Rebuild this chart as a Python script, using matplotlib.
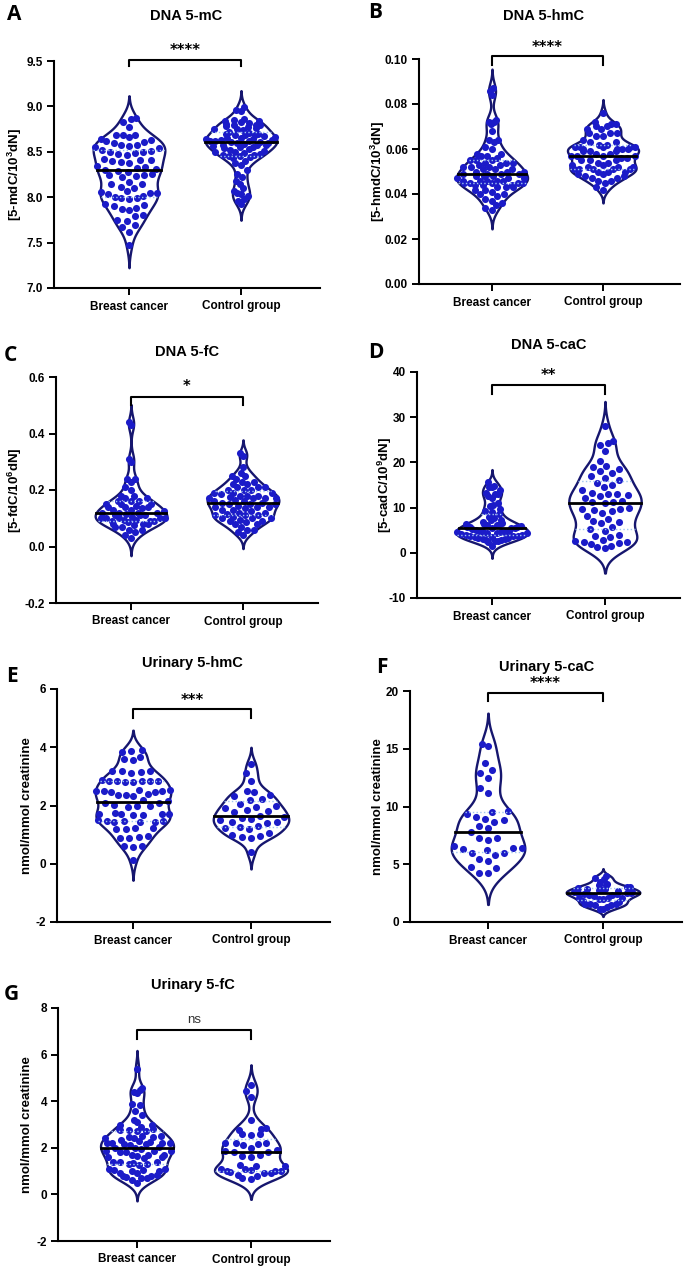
import numpy as np
import matplotlib.pyplot as plt

plt.rcParams["font.family"] = ["Liberation Sans", "DejaVu Sans"]
plt.rcParams["font.weight"] = "bold"
plt.rcParams["axes.unicode_minus"] = False
plt.rcParams["mathtext.fontset"] = "custom"
plt.rcParams["mathtext.bf"] = "Liberation Sans:bold"
plt.rcParams["mathtext.rm"] = "Liberation Sans:bold"
plt.rcParams["mathtext.default"] = "bf"

groups = ["Breast cancer", "Control group"]

# values, one list per group
dna_5mc_bc = [8.87, 8.86, 8.83, 8.77, 8.69, 8.68, 8.68, 8.66, 8.64, 8.63, 8.62, 8.61,
              8.60, 8.58, 8.57, 8.56, 8.55, 8.54, 8.52, 8.51, 8.50, 8.50, 8.49, 8.48,
              8.47, 8.42, 8.41, 8.41, 8.40, 8.39, 8.38, 8.34, 8.33, 8.32, 8.31, 8.30,
              8.29, 8.28, 8.25, 8.24, 8.24, 8.23, 8.22, 8.17, 8.15, 8.14, 8.11, 8.10,
              8.07, 8.06, 8.05, 8.05, 8.04, 8.01, 8.00, 7.99, 7.99, 7.98, 7.92, 7.91,
              7.90, 7.88, 7.87, 7.86, 7.80, 7.79, 7.75, 7.74, 7.69, 7.67, 7.62, 7.47]
dna_5mc_ctrl = [8.99, 8.96, 8.95, 8.86, 8.85, 8.84, 8.84, 8.83, 8.82, 8.81, 8.80, 8.80,
                8.79, 8.78, 8.77, 8.76, 8.75, 8.75, 8.74, 8.72, 8.71, 8.70, 8.70, 8.69,
                8.68, 8.68, 8.67, 8.66, 8.65, 8.65, 8.64, 8.64, 8.63, 8.63, 8.62, 8.62,
                8.62, 8.61, 8.61, 8.60, 8.60, 8.59, 8.58, 8.58, 8.57, 8.56, 8.55, 8.55,
                8.54, 8.53, 8.52, 8.51, 8.50, 8.50, 8.49, 8.48, 8.47, 8.46, 8.45, 8.45,
                8.44, 8.43, 8.40, 8.38, 8.36, 8.30, 8.26, 8.22, 8.18, 8.14, 8.10, 8.07,
                8.05, 8.03, 8.01, 7.98, 7.96, 7.93]

dna_5hmc_bc = [0.087, 0.086, 0.084, 0.073, 0.072, 0.072, 0.071, 0.068, 0.064, 0.064,
               0.063, 0.061, 0.060, 0.058, 0.058, 0.057, 0.057, 0.056, 0.055, 0.055,
               0.055, 0.054, 0.054, 0.054, 0.053, 0.053, 0.052, 0.052, 0.052, 0.051,
               0.051, 0.051, 0.050, 0.050, 0.050, 0.049, 0.049, 0.049, 0.049, 0.048,
               0.048, 0.048, 0.047, 0.047, 0.047, 0.046, 0.046, 0.046, 0.046, 0.046,
               0.045, 0.045, 0.045, 0.045, 0.045, 0.044, 0.044, 0.044, 0.043, 0.043,
               0.043, 0.042, 0.042, 0.041, 0.040, 0.040, 0.039, 0.038, 0.037, 0.036,
               0.035, 0.034, 0.033]
dna_5hmc_ctrl = [0.076, 0.072, 0.071, 0.071, 0.070, 0.070, 0.069, 0.069, 0.067, 0.067,
                 0.067, 0.066, 0.066, 0.064, 0.063, 0.063, 0.062, 0.062, 0.061, 0.061,
                 0.061, 0.061, 0.061, 0.060, 0.060, 0.060, 0.060, 0.059, 0.059, 0.059,
                 0.058, 0.058, 0.057, 0.057, 0.057, 0.057, 0.056, 0.056, 0.055, 0.055,
                 0.055, 0.054, 0.054, 0.053, 0.053, 0.052, 0.052, 0.052, 0.051, 0.051,
                 0.051, 0.051, 0.051, 0.050, 0.050, 0.050, 0.049, 0.049, 0.048, 0.048,
                 0.047, 0.047, 0.046, 0.046, 0.045, 0.043, 0.042]

dna_5fc_bc = [0.44, 0.43, 0.31, 0.30, 0.24, 0.24, 0.23, 0.21, 0.20, 0.18, 0.18, 0.17,
              0.17, 0.16, 0.16, 0.16, 0.15, 0.15, 0.15, 0.145, 0.14, 0.14, 0.14, 0.135,
              0.13, 0.13, 0.125, 0.12, 0.12, 0.12, 0.12, 0.115, 0.11, 0.11, 0.11, 0.105,
              0.10, 0.10, 0.10, 0.10, 0.10, 0.095, 0.095, 0.09, 0.09, 0.09, 0.085, 0.08,
              0.08, 0.08, 0.075, 0.07, 0.07, 0.06, 0.06, 0.05, 0.04, 0.03]
dna_5fc_ctrl = [0.33, 0.32, 0.28, 0.26, 0.25, 0.25, 0.24, 0.23, 0.23, 0.22, 0.22, 0.21,
                0.21, 0.21, 0.20, 0.20, 0.20, 0.19, 0.19, 0.19, 0.185, 0.18, 0.18, 0.18,
                0.175, 0.17, 0.17, 0.17, 0.17, 0.165, 0.16, 0.16, 0.155, 0.155, 0.15, 0.15,
                0.15, 0.145, 0.14, 0.14, 0.14, 0.135, 0.13, 0.13, 0.125, 0.12, 0.12, 0.115,
                0.11, 0.11, 0.11, 0.105, 0.10, 0.10, 0.10, 0.095, 0.09, 0.09, 0.085, 0.08,
                0.08, 0.07, 0.06, 0.06, 0.05, 0.04]

dna_5cac_bc = [15.6, 14.8, 14.6, 14.5, 13.9, 13.2, 13.0, 12.9, 12.5, 12.2, 11.0, 10.6,
               10.3, 9.6, 9.2, 9.0, 8.5, 8.0, 7.6, 7.3, 7.2, 6.9, 6.5, 6.4, 6.3, 6.3,
               6.2, 6.1, 6.0, 5.8, 5.7, 5.6, 5.5, 5.5, 5.4, 5.2, 5.0, 4.9, 4.8, 4.7,
               4.6, 4.6, 4.5, 4.4, 4.4, 4.3, 4.2, 4.0, 3.9, 3.8, 3.8, 3.7, 3.5, 3.4,
               3.3, 3.2, 3.0, 3.0, 2.9, 2.8, 2.7, 2.6, 2.5, 1.6]
dna_5cac_ctrl = [28.0, 24.8, 24.2, 23.8, 22.5, 20.4, 19.2, 19.0, 18.5, 18.0, 17.6, 17.0,
                 16.5, 16.0, 15.5, 15.0, 14.5, 14.0, 13.3, 13.0, 12.9, 12.7, 12.5, 12.2,
                 11.5, 11.3, 11.0, 11.2, 10.0, 9.8, 9.6, 9.5, 9.2, 8.8, 8.2, 7.5, 7.0,
                 6.8, 6.5, 5.8, 5.2, 4.8, 4.0, 3.8, 3.4, 2.8, 2.6, 2.4, 2.3, 2.2, 2.0,
                 1.6, 1.2, 1.0]

uri_5hmc_bc = [3.90, 3.87, 3.82, 3.65, 3.60, 3.56, 3.20, 3.18, 3.15, 3.18, 3.12, 2.88,
               2.85, 2.85, 2.82, 2.85, 2.80, 2.85, 2.83, 2.52, 2.50, 2.48, 2.50, 2.52,
               2.45, 2.50, 2.38, 2.35, 2.33, 2.36, 2.20, 2.15, 2.10, 2.08, 2.02, 1.98,
               1.95, 1.98, 1.72, 1.70, 1.68, 1.72, 1.70, 1.75, 1.68, 1.48, 1.46, 1.45,
               1.50, 1.44, 1.47, 1.45, 1.22, 1.20, 1.18, 1.22, 0.92, 0.90, 0.88, 0.95,
               0.62, 0.60, 0.58, 0.12]
uri_5hmc_ctrl = [3.42, 3.10, 2.85, 2.50, 2.48, 2.35, 2.32, 2.22, 2.20, 2.05, 2.00, 1.95,
                 1.90, 1.85, 1.80, 1.78, 1.65, 1.62, 1.58, 1.55, 1.50, 1.45, 1.42, 1.40,
                 1.28, 1.25, 1.22, 1.20, 1.05, 1.00, 0.95, 0.92, 0.88, 0.40]

uri_5cac_bc = [15.4, 15.2, 13.8, 13.2, 12.9, 12.45, 11.6, 11.15, 9.6, 9.5, 9.35, 9.1,
               8.9, 8.85, 8.7, 8.3, 8.1, 7.75, 7.3, 7.3, 7.1, 6.55, 6.4, 6.4, 6.3, 6.2,
               6.0, 6.0, 5.8, 5.45, 5.25, 4.8, 4.65, 4.25, 4.2]
uri_5cac_ctrl = [4.0, 3.85, 3.7, 3.5, 3.3, 3.2, 3.2, 3.0, 3.0, 2.95, 2.9, 2.85, 2.8,
                 2.75, 2.65, 2.6, 2.6, 2.55, 2.5, 2.5, 2.45, 2.4, 2.35, 2.3, 2.25, 2.1,
                 2.1, 2.05, 2.0, 1.95, 1.8, 1.75, 1.6, 1.6, 1.55, 1.5, 1.45, 1.3, 1.15,
                 1.1]

uri_5fc_bc = [5.4, 4.55, 4.5, 4.4, 4.35, 3.9, 3.85, 3.6, 3.4, 3.2, 3.1, 3.0, 3.0, 2.9,
              2.8, 2.8, 2.75, 2.75, 2.7, 2.7, 2.5, 2.5, 2.45, 2.45, 2.4, 2.4, 2.35, 2.3,
              2.25, 2.2, 2.2, 2.2, 2.2, 2.15, 2.15, 2.1, 2.05, 2.0, 2.0, 1.95, 1.85,
              1.85, 1.85, 1.8, 1.8, 1.7, 1.7, 1.7, 1.65, 1.6, 1.6, 1.55, 1.4, 1.4, 1.4,
              1.35, 1.3, 1.3, 1.25, 1.1, 1.1, 1.05, 1.05, 1.0, 1.0, 0.9, 0.9, 0.85, 0.8,
              0.8, 0.75, 0.7, 0.7, 0.6, 0.5]
uri_5fc_ctrl = [4.7, 4.45, 4.2, 3.2, 2.85, 2.8, 2.75, 2.6, 2.6, 2.55, 2.2, 2.2, 2.2,
                2.15, 2.1, 2.0, 1.9, 1.85, 1.8, 1.8, 1.7, 1.65, 1.6, 1.25, 1.2, 1.2,
                1.1, 1.1, 1.05, 1.0, 1.0, 1.0, 0.95, 0.9, 0.9, 0.85, 0.8, 0.7, 0.65]

W, H = 685, 1267
NAVY = "#16166e"
DOT = "#1b1bc8"
QUART = "#9fc4f0"

# layout in pixels: axes box (l, t, r, b), tick x positions, ylabel x, title, letter
panels = [
    dict(data=(dna_5mc_bc, dna_5mc_ctrl), box=(54, 61, 320, 288), xt=(129, 241),
         ylim=(7.0, 9.5), step=0.5, fmt="%.1f", ylabel="[5-mdC/10$^{3}$dN]", ylx=15,
         title="DNA 5-mC", txy=(186, 16), letter="A", lxy=(14, 15),
         sig="****", br=(9.44, 9.51, 9.62), dist=8.5),
    dict(data=(dna_5hmc_bc, dna_5hmc_ctrl), box=(419, 59, 680, 284), xt=(492, 603),
         ylim=(0.0, 0.10), step=0.02, fmt="%.2f", ylabel="[5-hmdC/10$^{3}$dN]", ylx=378,
         title="DNA 5-hmC", txy=(544, 16), letter="B", lxy=(375, 12),
         sig="****", br=(0.0972, 0.1012, 0.105), dist=7.0),
    dict(data=(dna_5fc_bc, dna_5fc_ctrl), box=(56, 377, 318, 603), xt=(131, 243),
         ylim=(-0.2, 0.6), step=0.2, fmt="%.1f", ylabel="[5-fdC/10$^{6}$dN]", ylx=15,
         title="DNA 5-fC", txy=(187, 352), letter="C", lxy=(10, 356),
         sig="*", br=(0.502, 0.529, 0.567), dist=7.0),
    dict(data=(dna_5cac_bc, dna_5cac_ctrl), box=(417, 372, 680, 598), xt=(492, 605),
         ylim=(-10, 40), step=10, fmt="%d", ylabel="[5-cadC/10$^{9}$dN]", ylx=385,
         title="DNA 5-caC", txy=(549, 345), letter="D", lxy=(376, 352),
         sig="**", br=(35.2, 37.05, 39.3), dist=8.5),
    dict(data=(uri_5hmc_bc, uri_5hmc_ctrl), box=(57, 689, 330, 922), xt=(133, 251),
         ylim=(-2, 6), step=2, fmt="%d", ylabel="nmol/mmol creatinine", ylx=27,
         title="Urinary 5-hmC", txy=(192, 663), letter="E", lxy=(12, 676),
         sig="***", br=(4.99, 5.30, 5.62), dist=9.5),
    dict(data=(uri_5cac_bc, uri_5cac_ctrl), box=(410, 691, 682, 922), xt=(488, 603),
         ylim=(0, 20), step=5, fmt="%d", ylabel="nmol/mmol creatinine", ylx=378,
         title="Urinary 5-caC", txy=(547, 667), letter="F", lxy=(382, 667),
         sig="****", br=(19.14, 19.8, 20.66), dist=9.5),
    dict(data=(uri_5fc_bc, uri_5fc_ctrl), box=(58, 1008, 330, 1241), xt=(137, 251),
         ylim=(-2, 8), step=2, fmt="%d", ylabel="nmol/mmol creatinine", ylx=27,
         title="Urinary 5-fC", txy=(193, 985), letter="G", lxy=(11, 994),
         sig="ns", br=(6.68, 7.07, 7.5), dist=9.0),
]


def kde(vals, grid, bw):
    d = (grid[:, None] - vals[None, :]) / bw
    return np.exp(-0.5 * d ** 2).sum(axis=1)


def swarm(ypix, dist):
    # simple beeswarm in pixel space, returns x offsets in pixels
    order = np.argsort(ypix)
    px, py = [], []
    xs = np.zeros(len(ypix))
    for i in order:
        y = ypix[i]
        cands = [0.0]
        for xj, yj in zip(px, py):
            dy = abs(yj - y)
            if dy < dist:
                dx = np.sqrt(dist ** 2 - dy ** 2)
                cands += [xj - dx, xj + dx]
        cands.sort(key=lambda c: (abs(c), c))
        for c in cands:
            if all((c - xj) ** 2 + (y - yj) ** 2 >= dist ** 2 - 1e-6 for xj, yj in zip(px, py)):
                break
        xs[i] = c
        px.append(c)
        py.append(y)
    return xs


def squeeze(xs, ypix, limit, dist):
    # pull rows that stick out of the violin back inside it
    out = xs.copy()
    for i in range(len(xs)):
        near = np.abs(ypix - ypix[i]) < dist * 0.6
        widest = np.abs(xs[near]).max()
        if widest > limit[i] > 0:
            out[i] = xs[i] * limit[i] / widest
    return out


fig = plt.figure(figsize=(W / 100, H / 100), dpi=100)

for p in panels:
    l, t, r, b = p["box"]
    ax = fig.add_axes([l / W, 1 - b / H, (r - l) / W, (b - t) / H])
    unit = p["xt"][1] - p["xt"][0]
    ax.set_xlim(-(p["xt"][0] - l) / unit, (r - p["xt"][0]) / unit)
    y0, y1 = p["ylim"]
    ax.set_ylim(y0, y1)
    ypu = (b - t) / (y1 - y0)

    for i, d in enumerate(p["data"]):
        vals = np.array(d, dtype=float)
        bw = 0.7 * vals.std(ddof=1) * len(vals) ** (-0.2)
        grid = np.linspace(vals.min() - 2.5 * bw, vals.max() + 2.5 * bw, 400)
        half = kde(vals, grid, bw)
        half = half / half.max() * 0.32
        ax.fill_betweenx(grid, i - half, i + half, facecolor="white",
                         edgecolor=NAVY, linewidth=1.7, zorder=2)

        xoff = swarm(vals * ypu, p["dist"])
        limit = np.interp(vals, grid, half) * unit - 1.0
        xoff = squeeze(xoff, vals * ypu, limit, p["dist"])
        ax.scatter(i + xoff / unit, vals, s=26, color=DOT, linewidths=0, zorder=3)

        for q, col, ls, lw in [(25, QUART, ":", 1.0), (75, QUART, ":", 1.0), (50, "black", "-", 2.0)]:
            v = np.percentile(vals, q)
            hw = np.interp(v, grid, half)
            ax.plot([i - hw, i + hw], [v, v], color=col, linestyle=ls, linewidth=lw, zorder=4)

    # significance bracket
    lo, hi, ty = p["br"]
    ax.plot([0, 0, 1, 1], [lo, hi, hi, lo], color="black", linewidth=1.5,
            clip_on=False, zorder=5)
    if p["sig"] == "ns":
        ax.text(0.5, ty, "ns", ha="center", va="center", fontsize=9.5,
                fontweight="normal", color="#333333")
    else:
        ax.text(0.5, ty, p["sig"], ha="center", va="center", fontsize=10.5,
                family="DejaVu Sans", fontweight="bold")

    ticks = np.arange(y0, y1 + p["step"] / 2, p["step"])
    ax.set_yticks(ticks)
    ax.set_yticklabels([p["fmt"] % v for v in ticks])
    ax.set_xticks([0, 1])
    ax.set_xticklabels(groups)
    ax.tick_params(length=5, width=1.4, labelsize=8.5, pad=3, color="black")
    ax.tick_params(axis="x", pad=4)
    for s in ["top", "right"]:
        ax.spines[s].set_visible(False)
    for s in ["left", "bottom"]:
        ax.spines[s].set_linewidth(1.5)

    fig.text(p["ylx"] / W, 1 - (t + b) / 2 / H, p["ylabel"], rotation=90,
             ha="center", va="center", fontsize=9.5, fontweight="bold")
    fig.text(p["txy"][0] / W, 1 - p["txy"][1] / H, p["title"], ha="center",
             va="center", fontsize=10.5, fontweight="bold")
    fig.text(p["lxy"][0] / W, 1 - p["lxy"][1] / H, p["letter"], ha="center",
             va="center", fontsize=15, fontweight="bold", family="Open Sans")

fig.savefig("out.png", dpi=100, facecolor="white")
